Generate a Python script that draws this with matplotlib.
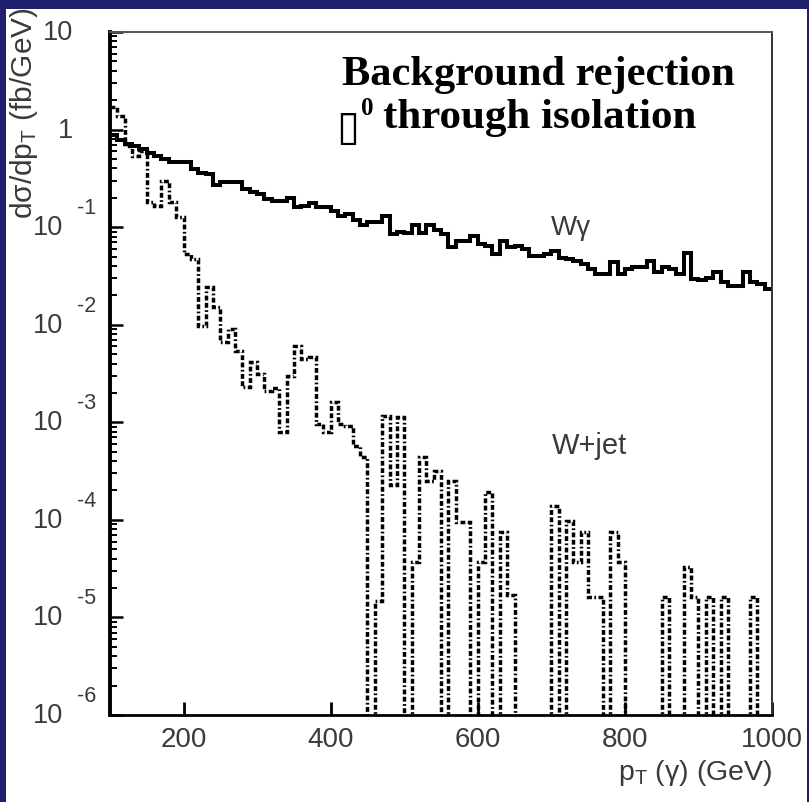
import numpy as np
import matplotlib
matplotlib.use("Agg")
import matplotlib.pyplot as plt
from matplotlib.patches import Rectangle
from matplotlib.ticker import LogLocator, NullFormatter, NullLocator

plt.rcParams["font.family"] = ["Liberation Sans", "DejaVu Sans"]
plt.rcParams["mathtext.fontset"] = "custom"
plt.rcParams["mathtext.rm"] = "Liberation Sans"
plt.rcParams["mathtext.it"] = "Liberation Sans:italic"

# ── data: 10 GeV bins from 100 to 1000 GeV ─────────────────────────────────
pt_edges = np.linspace(100, 1000, 91)

w_gamma = [0.88, 0.78, 0.71, 0.68, 0.63, 0.575, 0.54, 0.50, 0.466, 0.466,
           0.466, 0.395, 0.359, 0.351, 0.270, 0.292, 0.292, 0.292, 0.246, 0.231,
           0.219, 0.195, 0.187, 0.187, 0.198, 0.160, 0.166, 0.177, 0.160, 0.160,
           0.148, 0.131, 0.136, 0.117, 0.104, 0.112, 0.112, 0.129, 0.0851, 0.0899,
           0.0873, 0.104, 0.0873, 0.104, 0.0942, 0.0851, 0.0622, 0.0728, 0.0728, 0.0807,
           0.0673, 0.0637, 0.0531, 0.0728, 0.0622, 0.0637, 0.0598, 0.0503, 0.0503, 0.0531,
           0.0574, 0.0480, 0.0472, 0.0454, 0.0420, 0.0373, 0.0331, 0.0331, 0.0437, 0.0331,
           0.0373, 0.0388, 0.0388, 0.0454, 0.0345, 0.0388, 0.0373, 0.0331, 0.0544, 0.0294,
           0.0288, 0.0299, 0.0350, 0.0272, 0.0248, 0.0248, 0.0345, 0.0272, 0.0262, 0.0233]

w_jet = [1.69, 1.39, 0.679, 0.537, 0.604, 0.180, 0.166, 0.299, 0.180, 0.126,
         0.0531, 0.0472, 0.0098, 0.0242, 0.0151, 0.00662, 0.00906, 0.00543, 0.00229, 0.00413,
         0.00313, 0.00211, 0.00223, 0.000792, 0.00301, 0.00611, 0.00447, 0.00465, 0.000963, 0.000792,
         0.00162, 0.000963, 0.000925, 0.000577, 0.000439, 0, 1.49e-5, 0.00117, 0.000225, 0.00113,
         0, 3.69e-5, 0.000439, 0.000253, 0.000320, 0, 0.000253, 9.6e-5, 9.6e-5, 0,
         3.69e-5, 0.000192, 0, 7.48e-5, 1.68e-5, 0, 0, 0, 0, 0,
         0.000140, 0, 9.8e-5, 3.7e-5, 7.5e-5, 1.63e-5, 1.63e-5, 0, 7.5e-5, 3.7e-5,
         0, 0, 0, 0, 0, 1.63e-5, 0, 0, 3.3e-5, 1.63e-5,
         0, 1.63e-5, 0, 1.63e-5, 0, 0, 0, 1.63e-5, 0, 0]

y_decades = [1, 0, -1, -2, -3, -4, -5, -6]
x_ticks = [200, 400, 600, 800, 1000]

GREY = "#3a3a3a"
PX = 0.72  # points per pixel at dpi=100

# ── figure with slide background ────────────────────────────────────────────
fig = plt.figure(figsize=(8.09, 8.03), dpi=100)
fig.patch.set_facecolor("#1f1f6e")
fig.add_artist(Rectangle((6 / 809, 0), 801 / 809, 793 / 803,
                         transform=fig.transFigure, facecolor="white",
                         edgecolor="none", zorder=-1))

ax = fig.add_axes([110 / 809, 87 / 803, 662 / 809, 683 / 803])
ax.set_facecolor("white")
ax.set_yscale("log")
ax.set_xlim(100, 1000)
ax.set_ylim(1e-6, 10)

ax.stairs(w_gamma, pt_edges, baseline=None, color="black", lw=2.9)
wjet_plot = np.where(np.array(w_jet) > 0, w_jet, 1e-12)  # empty bins drop off the axis
ax.stairs(wjet_plot, pt_edges, baseline=None, color="black", lw=2.5,
          linestyle=(0, (1.4, 0.7, 1.4, 0.7, 0.5, 0.7)))

# ── axes styling ────────────────────────────────────────────────────────────
ax.set_xticks(x_ticks)
ax.xaxis.set_minor_locator(NullLocator())
ax.tick_params(axis="x", which="major", direction="in", length=9.5, width=2,
               labelsize=20, labelcolor=GREY, pad=8)
ax.set_yticks([10.0 ** e for e in y_decades])
ax.yaxis.set_minor_locator(LogLocator(base=10, subs=np.arange(2, 10), numticks=20))
ax.yaxis.set_major_formatter(NullFormatter())
ax.yaxis.set_minor_formatter(NullFormatter())
ax.tick_params(axis="y", which="major", direction="in", length=9.5, width=1.8)
ax.tick_params(axis="y", which="minor", direction="in", length=5, width=1.4)

ax.spines["left"].set_linewidth(2.8)
ax.spines["bottom"].set_linewidth(2.0)
ax.spines["top"].set_linewidth(1.4)
ax.spines["top"].set_color("#555555")
ax.spines["right"].set_linewidth(1.4)
ax.spines["right"].set_color("#333333")

# y tick labels in the old "10  -2" style
for e in y_decades:
    base = "1" if e == 0 else "10"
    right = 73 if e >= 0 else 63
    ax.annotate(base, xy=(0, 10.0 ** e), xycoords=("axes fraction", "data"),
                xytext=(-(110 - right) * PX, 0), textcoords="offset points",
                ha="right", va="center", fontsize=19.5, color=GREY,
                annotation_clip=False)
    if e < 0:
        ax.annotate(f"-{-e}", xy=(0, 10.0 ** e), xycoords=("axes fraction", "data"),
                    xytext=(-(110 - 77) * PX, 14 * PX), textcoords="offset points",
                    ha="left", va="baseline", fontsize=15.5, color=GREY,
                    annotation_clip=False)

ax.text(1.0, -0.0835, "p$_{\\rm T}$ (γ) (GeV)", transform=ax.transAxes,
        ha="right", va="center", fontsize=20.5, color=GREY)
fig.text(24 / 809, 1 - 113 / 803, "dσ/dp$_{\\rm T}$ (fb/GeV)", rotation=90,
         ha="center", va="center", fontsize=21.5, color=GREY)

ax.text(699, 0.0852, "Wγ", fontsize=20, color=GREY, va="baseline")
ax.text(701, 4.9e-4, "W+jet", fontsize=21, color=GREY, va="baseline")

# bold serif annotation; the first glyph was a missing-glyph box in the slide
serif = ["Liberation Serif", "DejaVu Sans"]
ax.text(0.350, 0.924, "Background rejection", transform=ax.transAxes,
        fontsize=30.5, fontweight="bold", family=serif, va="baseline")
line2 = dict(xy=(0.350, 0.861), xycoords="axes fraction",
             textcoords="offset points", va="baseline", fontweight="bold")
ax.annotate("\u25af", xytext=(-6 * PX, -12 * PX), fontsize=30,
            family=["DejaVu Sans"], **line2)
ax.annotate("0", xytext=(19 * PX, 13 * PX), fontsize=18, family=serif, **line2)
ax.annotate("through isolation", xytext=(41 * PX, 0), fontsize=31,
            family=serif, **line2)

fig.savefig("out.png", dpi=100, facecolor=fig.get_facecolor())
